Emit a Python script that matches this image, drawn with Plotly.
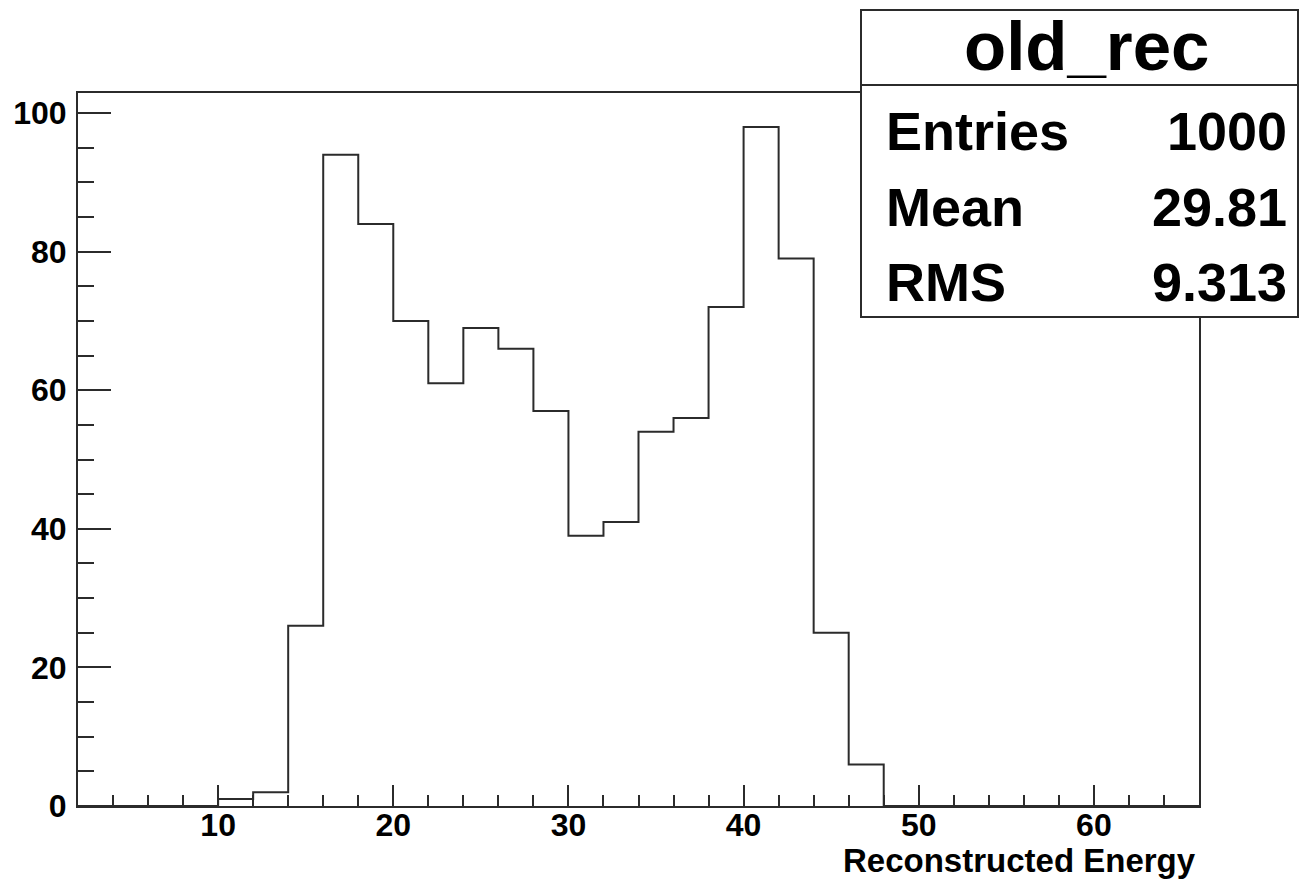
import plotly.graph_objects as go

# ---- data ----
bin_low = [2, 4, 6, 8, 10, 12, 14, 16, 18, 20, 22, 24, 26, 28, 30, 32, 34, 36, 38, 40,
           42, 44, 46, 48, 50, 52, 54, 56, 58, 60, 62, 64]
bin_width = 2
counts = [0, 0, 0, 0, 1, 2, 26, 94, 84, 70, 61, 69, 66, 57, 39, 41, 54, 56, 72, 98,
          79, 25, 6, 0, 0, 0, 0, 0, 0, 0, 0, 0]
stats_title = "old_rec"
stats_labels = ["Entries", "Mean", "RMS"]
stats_values = ["1000", "29.81", "9.313"]
x_title = "Reconstructed Energy"

# ---- layout geometry (pixels) ----
W, H = 1299, 880
L, R, T, B = 78, 1199, 93, 806  # plot area edges


def px(xpix):
    return (xpix - L) / (R - L)


def py(ypix):
    return (B - ypix) / (B - T)


xs = bin_low + [bin_low[-1] + bin_width]
ys = counts + [counts[-1]]

LINE = "#2b2b2b"
FONT = "Liberation Sans"

fig = go.Figure()
fig.add_trace(go.Scatter(
    x=xs, y=ys, mode="lines", line=dict(shape="hv", color=LINE, width=2),
    hoverinfo="skip", showlegend=False))

axis_common = dict(
    showline=True, linecolor=LINE, linewidth=2, mirror=True,
    ticks="inside", tickcolor=LINE, tickwidth=2,
    showgrid=False, zeroline=False,
    tickfont=dict(family=FONT, size=32, color="black", weight="bold"),
)

fig.update_xaxes(
    range=[2, 66], tick0=0, dtick=10, ticklen=21,
    minor=dict(ticks="inside", dtick=2, tick0=0, ticklen=11, tickcolor=LINE, tickwidth=2),
    ticklabelstandoff=-10,
    **axis_common)
fig.update_yaxes(
    range=[0, 102.9], tick0=0, dtick=20, ticklen=33,
    minor=dict(ticks="inside", dtick=5, tick0=0, ticklen=16, tickcolor=LINE, tickwidth=2),
    ticklabelstandoff=3,
    **axis_common)

shapes = [
    dict(type="rect", xref="paper", yref="paper", layer="above",
         x0=px(861), x1=px(1298), y0=py(317), y1=py(10),
         line=dict(color=LINE, width=2), fillcolor="white"),
    dict(type="line", xref="paper", yref="paper", layer="above",
         x0=px(861), x1=px(1298), y0=py(85), y1=py(85),
         line=dict(color=LINE, width=2)),
]

annotations = [
    dict(text="<b>%s</b>" % stats_title, xref="paper", yref="paper",
         x=px(1086), y=py(46), xanchor="center", yanchor="middle", showarrow=False,
         font=dict(family=FONT, size=69, color="black")),
    dict(text="<b>%s</b>" % x_title, xref="paper", yref="paper",
         x=px(1198), y=py(860), xanchor="right", yanchor="middle", showarrow=False,
         font=dict(family=FONT, size=33, color="black")),
]
row_y = [131, 207, 282]
for lab, val, yy in zip(stats_labels, stats_values, row_y):
    annotations.append(dict(text="<b>%s</b>" % lab, xref="paper", yref="paper",
                            x=px(884), y=py(yy), xanchor="left", yanchor="middle",
                            showarrow=False, font=dict(family=FONT, size=54, color="black")))
    annotations.append(dict(text="<b>%s</b>" % val, xref="paper", yref="paper",
                            x=px(1289), y=py(yy), xanchor="right", yanchor="middle",
                            showarrow=False, font=dict(family=FONT, size=54, color="black")))

fig.update_layout(
    width=W, height=H,
    margin=dict(l=L, r=W - R, t=T, b=H - B, autoexpand=False),
    paper_bgcolor="white", plot_bgcolor="white",
    shapes=shapes, annotations=annotations,
    font=dict(family=FONT, color="black"),
)

fig.write_html("out.html")
